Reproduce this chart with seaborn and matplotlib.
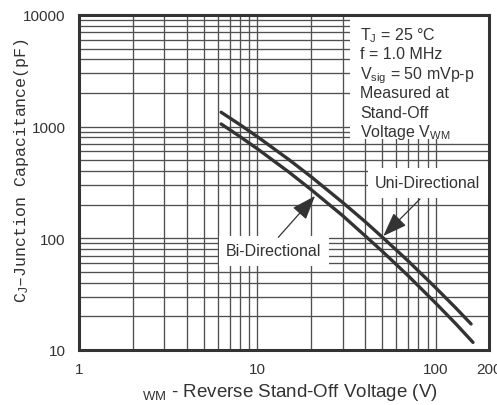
import matplotlib
matplotlib.use('Agg')
import matplotlib.pyplot as plt
import matplotlib.ticker as mticker
from matplotlib.patches import Rectangle
import numpy as np
import pandas as pd
import seaborn as sns

# values (log-log)
volts_uni = [6.25, 8, 10, 15, 20, 30, 40, 50, 70, 100, 130, 158]
cap_uni = [1346, 1038, 812, 507, 356, 210, 142, 103, 62.8, 36.1, 23.7, 17.1]
volts_bi = [6.25, 8, 10, 15, 20, 30, 40, 50, 70, 100, 130, 162]
cap_bi = [1057, 812, 632, 392, 273, 160, 106, 76.9, 46.3, 26.3, 17.1, 11.7]

x_ticks = [1, 10, 100, 200]
x_tick_labels = ['1', '10', '100', '200']
y_ticks = [10, 100, 1000, 10000]
y_tick_labels = ['10', '100', '1000', '10000']

cond_lines = ['T$_\\mathrm{J}$ = 25 °C', 'f = 1.0 MHz', 'V$_\\mathrm{sig}$ = 50 mVp-p',
              'Measured at', 'Stand-Off', 'Voltage V$_\\mathrm{WM}$']

sns.set_theme(style='white')
plt.rcParams['font.family'] = ['Liberation Sans', 'DejaVu Sans']
plt.rcParams['mathtext.fontset'] = 'custom'
plt.rcParams['mathtext.rm'] = 'Liberation Sans'
plt.rcParams['mathtext.it'] = 'Liberation Sans:italic'
plt.rcParams['mathtext.bf'] = 'Liberation Sans:bold'

ink = '#333333'
grid_c = '#505050'

fig = plt.figure(figsize=(4.97, 4.06), dpi=100)
ax = fig.add_axes([0.1596, 0.1355, 0.8249, 0.8251])
ax.set_xscale('log')
ax.set_yscale('log')

df_uni = pd.DataFrame({'V': volts_uni, 'C': cap_uni})
df_bi = pd.DataFrame({'V': volts_bi, 'C': cap_bi})
sns.lineplot(data=df_uni, x='V', y='C', ax=ax, color=ink, lw=2.4)
sns.lineplot(data=df_bi, x='V', y='C', ax=ax, color=ink, lw=2.4)

ax.set_xlim(1, 200)
ax.set_ylim(10, 10000)
ax.set_xticks(x_ticks)
ax.set_xticklabels(x_tick_labels)
ax.set_yticks(y_ticks)
ax.set_yticklabels(y_tick_labels)
ax.xaxis.set_minor_locator(mticker.LogLocator(base=10, subs=np.arange(2, 10), numticks=20))
ax.yaxis.set_minor_locator(mticker.LogLocator(base=10, subs=np.arange(2, 10), numticks=20))
ax.xaxis.set_minor_formatter(mticker.NullFormatter())
ax.yaxis.set_minor_formatter(mticker.NullFormatter())
ax.tick_params(which='both', length=0, labelsize=11, labelcolor=ink)
ax.tick_params(axis='x', pad=9)
ax.tick_params(axis='y', pad=10)

ax.set_axisbelow(True)
ax.grid(True, which='both', color=grid_c, lw=0.95)
for s in ax.spines.values():
    s.set_color(ink)
    s.set_linewidth(2.2)
    s.set_visible(True)

ax.set_xlabel('${}_{\\mathrm{WM}}$ - Reverse Stand-Off Voltage (V)', fontsize=13.5, color=ink)
ax.xaxis.label.set_va('baseline')
ax.xaxis.set_label_coords(0.514, -0.137)
ax.set_ylabel('C$_\\mathrm{J}$–Junction Capacitance(pF)', fontsize=12, color=ink,
              family=['Liberation Mono', 'DejaVu Sans Mono'])
ax.yaxis.set_label_coords(-0.118, 0.54)

# conditions box in the upper right, grid cleared behind it
ax.add_patch(Rectangle((0.66, 0.63), 0.34, 0.37, transform=ax.transAxes,
                       facecolor='white', edgecolor='none', zorder=1))
for i, line in enumerate(cond_lines):
    ax.text(0.685, 0.928 - i * 0.0578, line, transform=ax.transAxes, fontsize=11.5,
            color=ink, va='baseline', ha='left', zorder=3)

box = dict(boxstyle='square,pad=0.45', fc='white', ec='none')
ax.text(0.850, 0.4985, 'Uni-Directional', transform=ax.transAxes, fontsize=11.5,
        color=ink, ha='center', va='center', bbox=box, zorder=3)
ax.text(0.474, 0.2955, 'Bi-Directional', transform=ax.transAxes, fontsize=11.5,
        color=ink, ha='center', va='center', bbox=box, zorder=3)

arrow = dict(arrowstyle='-|>,head_length=1.5,head_width=0.55', color=ink, lw=0.9,
             shrinkA=0, shrinkB=0, mutation_scale=10)
ax.annotate('', xy=(0.5749, 0.4597), xytext=(0.4854, 0.3364),
            xycoords='axes fraction', textcoords='axes fraction', arrowprops=arrow)
ax.annotate('', xy=(0.7415, 0.3403), xytext=(0.831, 0.4507),
            xycoords='axes fraction', textcoords='axes fraction', arrowprops=arrow)

fig.savefig('out.png', dpi=100)
